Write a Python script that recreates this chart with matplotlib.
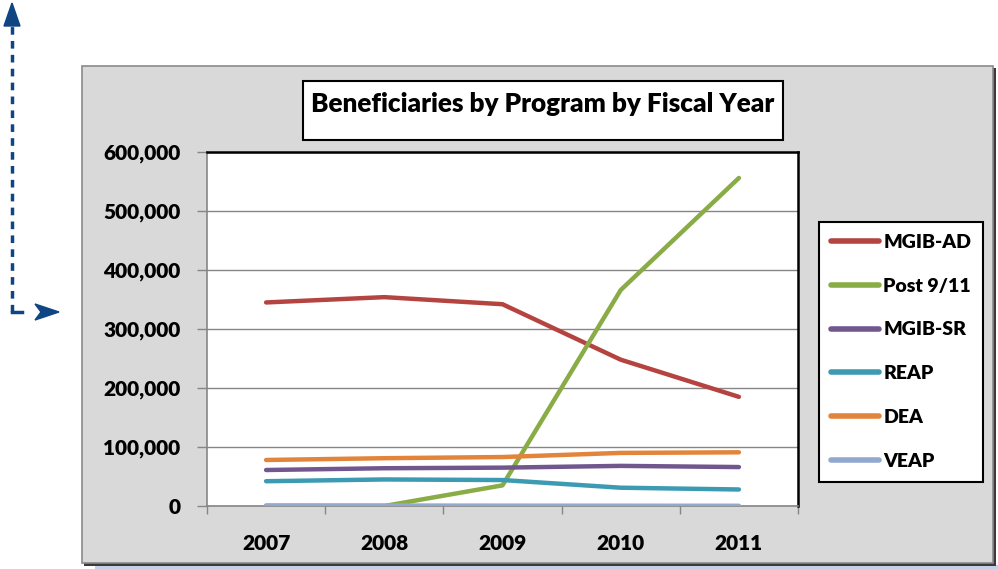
import matplotlib.pyplot as plt
from matplotlib.patches import Rectangle
from matplotlib.ticker import FuncFormatter, FixedLocator

# data
years = ['2007', '2008', '2009', '2010', '2011']
mgib_ad = [345000, 354000, 342000, 248000, 185000]
post_911 = [0, 0, 35000, 366000, 556000]
mgib_sr = [61000, 64000, 65000, 68000, 66000]
reap = [42000, 45000, 44000, 31000, 28000]
dea = [78000, 81000, 83000, 90000, 91000]
veap = [1000, 800, 600, 500, 400]

series = [
    ('MGIB-AD', mgib_ad, '#b54441'),
    ('Post 9/11', post_911, '#8aac47'),
    ('MGIB-SR', mgib_sr, '#72578f'),
    ('REAP', reap, '#3c9ab3'),
    ('DEA', dea, '#e3843b'),
    ('VEAP', veap, '#92a9cf'),
]

plt.rcParams['font.family'] = ['Lato', 'DejaVu Sans']
plt.rcParams['font.weight'] = 'bold'

W, H = 998, 569
fig = plt.figure(figsize=(W / 100, H / 100), dpi=100)


def fx(px):
    return px / W


def fy(py):
    return 1 - py / H


# light strip under the chart box
fig.patches.append(Rectangle((fx(95), 0), fx(998 - 95), fy(565), transform=fig.transFigure,
                             facecolor='#c5d0e6', edgecolor='none', zorder=-3))
# shadow of chart box
fig.patches.append(Rectangle((fx(84), fy(566)), fx(996 - 84), fy(68) - fy(566), transform=fig.transFigure,
                             facecolor='#3a3a3a', edgecolor='none', zorder=-2))
# gray chart area
fig.patches.append(Rectangle((fx(82), fy(563)), fx(993 - 82), fy(66) - fy(563), transform=fig.transFigure,
                             facecolor='#d9d9d9', edgecolor='#8a8a8a', linewidth=1.2, zorder=-1))

# title box
fig.patches.append(Rectangle((fx(303), fy(140)), fx(783 - 303), fy(81) - fy(140), transform=fig.transFigure,
                             facecolor='white', edgecolor='black', linewidth=1.5, zorder=1))
fig.text(fx(543), fy(104), 'Beneficiaries by Program by Fiscal Year', ha='center', va='center',
         fontsize=18.8, fontweight='heavy', color='black', zorder=2)

# dashed arrows on the left
arrow_color = '#0f4583'
fig.add_artist(plt.Line2D([fx(12), fx(12)], [fy(312), fy(20)], transform=fig.transFigure,
                          color=arrow_color, linewidth=2.5, linestyle=(0, (2.2, 1.8))))
fig.add_artist(plt.Line2D([fx(12), fx(22)], [fy(312), fy(312)], transform=fig.transFigure,
                          color=arrow_color, linewidth=2.5))
fig.add_artist(plt.Polygon([[fx(4), fy(26)], [fx(20), fy(26)], [fx(12), fy(3)]], closed=True,
                           transform=fig.transFigure, color=arrow_color))
fig.add_artist(plt.Polygon([[fx(35), fy(304)], [fx(59), fy(312)], [fx(35), fy(320)], [fx(41), fy(312)]],
                           closed=True, transform=fig.transFigure, color=arrow_color))

# plot area
ax = fig.add_axes([fx(207), fy(506), fx(798 - 207), fy(152) - fy(506)])
ax.set_zorder(3)
ax.set_facecolor('white')
x = list(range(len(years)))
for name, vals, col in series:
    ax.plot(x, vals, color=col, linewidth=3.2, label=name, solid_capstyle='round', zorder=3)

ax.set_xlim(-0.5, len(years) - 0.5)
ax.set_ylim(0, 600000)
ax.set_yticks(range(0, 600001, 100000))
ax.yaxis.set_major_formatter(FuncFormatter(lambda v, p: f'{int(v):,}'))
ax.grid(axis='y', color='#868686', linewidth=1, zorder=1)
ax.set_axisbelow(True)

ax.set_xticks(x)
ax.set_xticklabels(years)
ax.xaxis.set_minor_locator(FixedLocator([i - 0.5 for i in range(len(years) + 1)]))
ax.tick_params(axis='x', which='major', length=0, pad=20, labelsize=15)
ax.tick_params(axis='x', which='minor', length=6, color='#868686', width=1)
ax.tick_params(axis='y', length=7, color='#868686', width=1, pad=12, labelsize=15)
for lab in ax.get_xticklabels() + ax.get_yticklabels():
    lab.set_fontweight('heavy')

for side in ['left', 'bottom']:
    ax.spines[side].set_color('#868686')
    ax.spines[side].set_linewidth(1.2)
for side in ['top', 'right']:
    ax.spines[side].set_color('black')
    ax.spines[side].set_linewidth(1.8)

leg = fig.legend(loc='upper left', bbox_to_anchor=(fx(819), fy(222)), bbox_transform=fig.transFigure,
                 frameon=True, fancybox=False, framealpha=1, edgecolor='black',
                 prop={'size': 14, 'weight': 'heavy'}, handlelength=2.5, handletextpad=0.2,
                 labelspacing=1.38, borderpad=0.6, borderaxespad=0)
leg.set_zorder(4)
leg.get_frame().set_linewidth(1.5)
for line in leg.get_lines():
    line.set_linewidth(4)

fig.savefig('out.png', dpi=100)
